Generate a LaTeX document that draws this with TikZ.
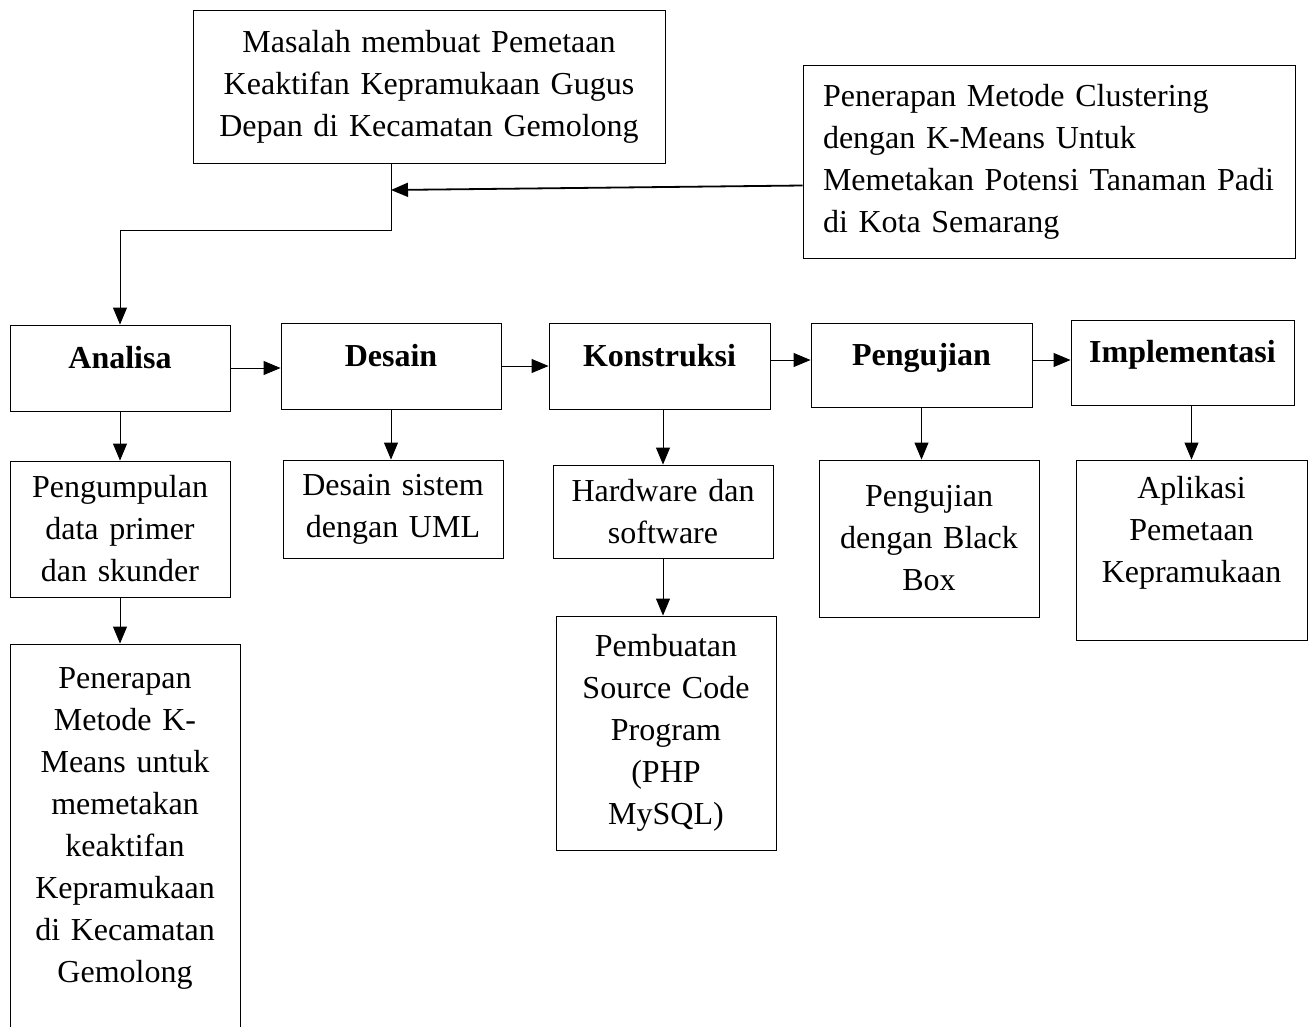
\documentclass[tikz,border=0pt]{standalone}
\usepackage{fontspec}
\setmainfont{Liberation Serif}
\usetikzlibrary{arrows.meta}

\tikzset{
  box/.style={draw, line width=0.9pt, inner sep=4pt, align=center,
    font=\fontsize{32pt}{42pt}\selectfont},
  stage/.style={box, font=\fontsize{32pt}{42pt}\selectfont\bfseries, text depth=22pt},
  arr/.style={line width=0.9pt, -{Triangle[length=17pt,width=14pt]}}
}

\begin{document}
\begin{tikzpicture}[x=1pt, y=-1pt]
\useasboundingbox (0,0) rectangle (1315,1026);

% bovenste kaders
\node[box, text width=464pt, minimum height=153pt] (masalah) at (429,86.5)
  {Masalah membuat Pemetaan\\Keaktifan Kepramukaan Gugus\\Depan di Kecamatan Gemolong};
\node[box, align=left, inner xsep=20pt, text width=452pt, minimum height=193pt] (padi) at (1049,161.5)
  {Penerapan Metode Clustering\\dengan K-Means Untuk\\Memetakan Potensi Tanaman Padi\\di Kota Semarang};

% tahapan
\node[stage, text width=212pt, minimum height=86pt] (analisa) at (120,368) {Analisa};
\node[stage, text width=212pt, minimum height=86pt] (desain) at (391,366) {Desain};
\node[stage, text width=213pt, minimum height=86pt] (konstruksi) at (659.5,366) {Konstruksi};
\node[stage, text width=213pt, minimum height=84pt] (pengujian) at (921.5,365) {Pengujian};
\node[stage, text width=215pt, minimum height=85pt] (implementasi) at (1182.5,362.5) {Implementasi};

% hasil per tahap
\node[box, text width=212pt, minimum height=136pt] (pengumpulan) at (120,529)
  {Pengumpulan\\data primer\\dan skunder};
\node[box, text width=222pt, minimum height=404pt] (kmeans) at (125,846)
  {Penerapan\\Metode K-\\Means untuk\\memetakan\\keaktifan\\Kepramukaan\\di Kecamatan\\Gemolong\\~};
\node[box, text width=212pt, minimum height=98pt] (uml) at (393,509)
  {Desain sistem\\dengan UML};
\node[box, text width=212pt, minimum height=93pt] (hardware) at (663,511.5)
  {Hardware dan\\software};
\node[box, text width=212pt, minimum height=234pt] (sourcecode) at (666,733)
  {Pembuatan\\Source Code\\Program\\(PHP\\MySQL)};
\node[box, text width=212pt, minimum height=157pt] (blackbox) at (929,538.5)
  {Pengujian\\dengan Black\\Box};
\node[box, text width=223pt, minimum height=180pt] (aplikasi) at (1191.5,550)
  {Aplikasi\\Pemetaan\\Kepramukaan\\~};

% alur dari masalah
\coordinate (drop) at (masalah.south -| desain.north);
\coordinate (join) at (drop |- 0,190);
\draw[arr] (drop) -- ++(0,67) -| (analisa.north);
\draw[arr, line width=1.8pt] ([yshift=-24pt]padi.west) -- (join);

% panah antar tahap
\draw[arr] (analisa.east) -- (analisa.east -| desain.west);
\draw[arr] (desain.east) -- (desain.east -| konstruksi.west);
\draw[arr] ([yshift=6pt]konstruksi.east) -- ([yshift=6pt]konstruksi.east -| pengujian.west);
\draw[arr] ([yshift=5pt]pengujian.east) -- ([yshift=5pt]pengujian.east -| implementasi.west);

% panah ke bawah
\draw[arr] (analisa.south) -- (analisa.south |- pengumpulan.north);
\draw[arr] (pengumpulan.south) -- (pengumpulan.south |- kmeans.north);
\draw[arr] (desain.south) -- (desain.south |- uml.north);
\draw[arr] (hardware.north |- konstruksi.south) -- (hardware.north);
\draw[arr] (hardware.south) -- (hardware.south |- sourcecode.north);
\draw[arr] (pengujian.south) -- (pengujian.south |- blackbox.north);
\draw[arr] (aplikasi.north |- implementasi.south) -- (aplikasi.north);
\end{tikzpicture}
\end{document}
